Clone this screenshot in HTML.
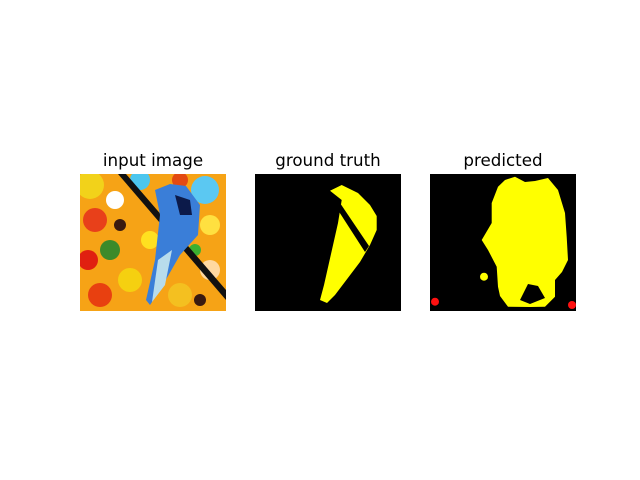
<!DOCTYPE html>
<html><head><meta charset="utf-8"><style>
html,body{margin:0;padding:0;background:#fff}
svg{display:block}
text{font-family:"DejaVu Sans","Liberation Sans",sans-serif;font-size:16.7px;fill:#000}
</style></head><body>
<svg width="640" height="480">
<rect width="640" height="480" fill="#fff"/>
<text x="153" y="166" text-anchor="middle">input image</text>
<text x="328" y="166" text-anchor="middle">ground truth</text>
<text x="503" y="166" text-anchor="middle">predicted</text>

<g>
<clipPath id="c1"><rect x="80" y="174" width="146" height="137"/></clipPath>
<g clip-path="url(#c1)">
<rect x="80" y="174" width="146" height="137" fill="#f6a316"/>
<circle cx="90" cy="185" r="14" fill="#f2d21a"/>
<circle cx="140" cy="180" r="10" fill="#4cc6ee"/>
<circle cx="205" cy="190" r="14" fill="#5bc8f2"/>
<circle cx="180" cy="180" r="8" fill="#e34a12"/>
<circle cx="95" cy="220" r="12" fill="#e8401a"/>
<circle cx="115" cy="200" r="9" fill="#ffffff"/>
<circle cx="210" cy="225" r="10" fill="#ffe040"/>
<circle cx="88" cy="260" r="10" fill="#e02010"/>
<circle cx="110" cy="250" r="10" fill="#3c8a2a"/>
<circle cx="130" cy="280" r="12" fill="#f5d010"/>
<circle cx="100" cy="295" r="12" fill="#e84010"/>
<circle cx="180" cy="295" r="12" fill="#f4c020"/>
<circle cx="210" cy="270" r="10" fill="#ffd8a0"/>
<circle cx="150" cy="240" r="9" fill="#ffe020"/>
<circle cx="195" cy="250" r="6" fill="#3cb030"/>
<circle cx="120" cy="225" r="6" fill="#3a1a10"/>
<circle cx="200" cy="300" r="6" fill="#3a1a10"/>
<path d="M118,174 L126,174 L226,290 L226,300 Z" fill="#111"/>
<path d="M155,190 L170,184 L186,186 L200,205 L198,235 L180,255 L160,290 L150,305 L146,300 L155,260 L160,215 Z" fill="#3a7ed8"/>
<path d="M158,260 L172,250 L165,285 L152,302 Z" fill="#b8dcec"/>
<path d="M175,195 L190,200 L192,215 L180,215 Z" fill="#0c1a4a"/>
</g></g>

<g>
<rect x="255" y="174" width="146" height="137" fill="#000"/>
<path d="M330,190.7 L341.7,185 L358,193 L370,205 L376.7,216 L376.7,230 L370,245 L360,262 L335,295 L327,303 L320,300 L324,285 L338,223 L341.7,200 Z" fill="#ffff00"/>
<path d="M336,207 L340,203 L369,246 L365,252 Z" fill="#000"/>
</g>

<g>
<rect x="430" y="174" width="146" height="137" fill="#000"/>
<path d="M498,186.7 L505,180 L515,176.7 L525,182 L535,181 L548,178 L558,190 L565,213 L566.7,236.7 L568,260 L562,272 L555,280 L555,296.7 L545,306.7 L530,307 L508,306.7 L500,296 L498,286.7 L496.7,266.7 L488,250 L481.7,240 L491.7,223 L491.7,203 Z" fill="#ffff00"/>
<path d="M520,300 L528,284 L538,286 L545,298 L530,304 Z" fill="#000"/>
<circle cx="484" cy="276.7" r="4" fill="#ffff00"/>
<circle cx="435" cy="301.7" r="4" fill="#ff1010"/>
<circle cx="572" cy="305" r="4" fill="#ff1010"/>
</g>
</svg>
</body></html>
